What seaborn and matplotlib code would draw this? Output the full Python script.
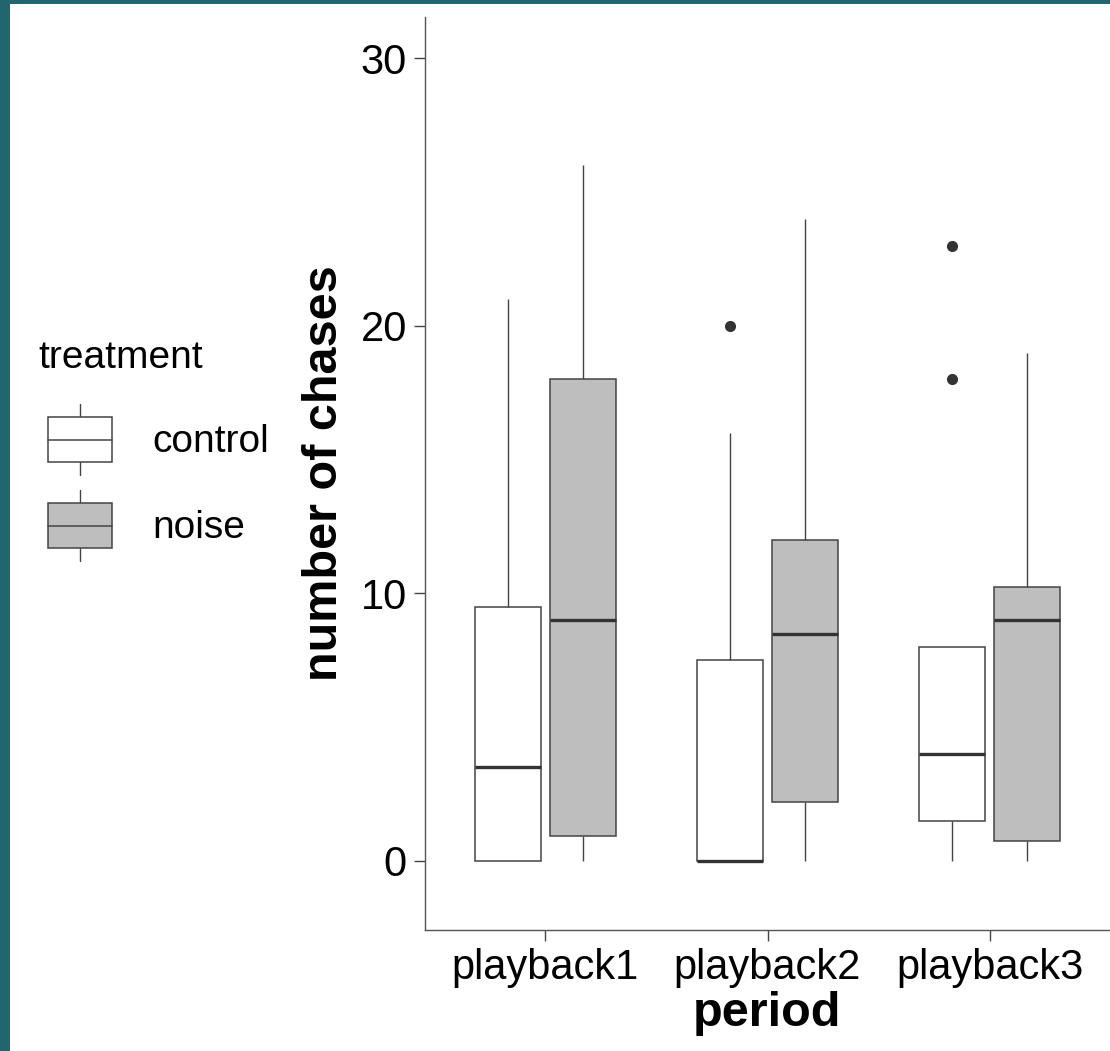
import matplotlib
matplotlib.use("Agg")
import numpy as np
import pandas as pd
import seaborn as sns
import matplotlib.pyplot as plt
from matplotlib.legend_handler import HandlerBase
from matplotlib.patches import Rectangle, Patch
from matplotlib.lines import Line2D

# ---- data (observations per group, chosen to reproduce the drawn box statistics) ----
periods = ["playback1", "playback2", "playback3"]
treatments = ["control", "noise"]
p1_control = [0, 0, 0, 1, 3.5, 6, 9.5, 14, 21]
p1_noise = [0, 0.5, 0.95, 5, 9, 12, 18, 22, 26]
p2_control = [0, 0, 0, 0, 0, 3, 7.5, 16, 20]
p2_noise = [0, 1, 2.2, 5, 8.5, 10, 12, 18, 24]
p3_control = [0, 1, 1.5, 3, 4, 6, 8, 18, 23]
p3_noise = [0, 0.5, 0.75, 5, 9, 10, 10.25, 15, 19]
y_ticks = [0, 10, 20, 30]

groups = {
    ("playback1", "control"): p1_control,
    ("playback1", "noise"): p1_noise,
    ("playback2", "control"): p2_control,
    ("playback2", "noise"): p2_noise,
    ("playback3", "control"): p3_control,
    ("playback3", "noise"): p3_noise,
}
rows = []
for (per, trt), vals in groups.items():
    for v in vals:
        rows.append({"period": per, "treatment": trt, "chases": v})
df = pd.DataFrame(rows)

sns.set_style("ticks")
plt.rcParams["font.family"] = ["Liberation Sans", "DejaVu Sans"]
plt.rcParams["text.color"] = "black"
plt.rcParams["axes.labelcolor"] = "black"
plt.rcParams["xtick.labelcolor"] = "black"
plt.rcParams["ytick.labelcolor"] = "black"

W, H = 1110, 1051
fig = plt.figure(figsize=(W / 100, H / 100), dpi=100, facecolor="white")
ax = fig.add_axes([425 / W, (H - 930) / H, (W - 425) / W, (930 - 17) / H])

line_c = "#444444"
palette = {"control": "white", "noise": "#BEBEBE"}
sns.boxplot(
    data=df, x="period", y="chases", hue="treatment",
    order=periods, hue_order=treatments, palette=palette, saturation=1,
    width=0.675, gap=0.12, linecolor=line_c, linewidth=1.1,
    showcaps=False,
    medianprops=dict(color="#333333", linewidth=2.4),
    whiskerprops=dict(color=line_c, linewidth=1.0),
    flierprops=dict(marker="o", markerfacecolor="#333333", markeredgecolor="#333333",
                    markersize=7),
    legend=False, ax=ax,
)

ax.set_xlim(-0.54, 2.54)
ax.set_ylim(-2.58, 31.55)
ax.set_yticks(y_ticks)
ax.set_yticklabels([str(t) for t in y_ticks])
for s in ["top", "right"]:
    ax.spines[s].set_visible(False)
for s in ["left", "bottom"]:
    ax.spines[s].set_color("#555555")
    ax.spines[s].set_linewidth(1.0)
ax.tick_params(axis="both", length=8, width=1.0, color="#444444",
               labelsize=30, labelcolor="black", pad=5)
ax.set_xlabel("period", fontsize=35, fontweight="bold", labelpad=2, color="black")
ax.set_ylabel("number of chases", fontsize=35, fontweight="bold", labelpad=10,
              color="black")
ax.grid(False)

KEY_INDENT = 10  # px


class BoxKey(HandlerBase):
    def create_artists(self, legend, orig_handle, xdescent, ydescent,
                       width, height, fontsize, trans):
        fc = orig_handle.get_facecolor()
        indent = KEY_INDENT * 0.72  # points
        x0, y0 = -xdescent + indent, -ydescent
        bw = width - indent
        ext = height * 0.28
        cx = x0 + bw / 2
        box = Rectangle((x0, y0), bw, height, facecolor=fc, edgecolor=line_c,
                        lw=1.1, transform=trans)
        w1 = Line2D([cx, cx], [y0 + height, y0 + height + ext], color=line_c, lw=1.0,
                    transform=trans)
        w2 = Line2D([cx, cx], [y0 - ext, y0], color=line_c, lw=1.0, transform=trans)
        med = Line2D([x0, x0 + bw], [y0 + height / 2] * 2, color=line_c, lw=1.1,
                     transform=trans)
        return [w1, w2, box, med]


handles = [Patch(facecolor=palette[t]) for t in treatments]
fs = 28
fpx = fs * 100 / 72
# matplotlib shrinks the handle area: h = fs*(hh - 0.35*(hh-0.7)); solve for 45 px
hh = (45 / fpx - 0.245) / 0.65
leg = fig.legend(
    handles, treatments, title="treatment", loc="upper left",
    bbox_to_anchor=(38 / W, 1 - 340 / H), frameon=False, borderpad=0,
    borderaxespad=0, fontsize=fs, title_fontsize=fs, alignment="left",
    handlelength=(64 + KEY_INDENT) / fpx, handleheight=hh,
    labelspacing=41 / fpx, handletextpad=40 / fpx,
    handler_map={Patch: BoxKey()}, labelcolor="black",
)
leg.get_title().set_color("black")

teal = "#21666F"
fig.patches.append(Rectangle((0, 0), 10 / W, 1, transform=fig.transFigure,
                             facecolor=teal, edgecolor="none", zorder=10))
fig.patches.append(Rectangle((0, 1 - 4 / H), 1, 4 / H, transform=fig.transFigure,
                             facecolor=teal, edgecolor="none", zorder=10))

fig.savefig("out.png", dpi=100, facecolor="white")
